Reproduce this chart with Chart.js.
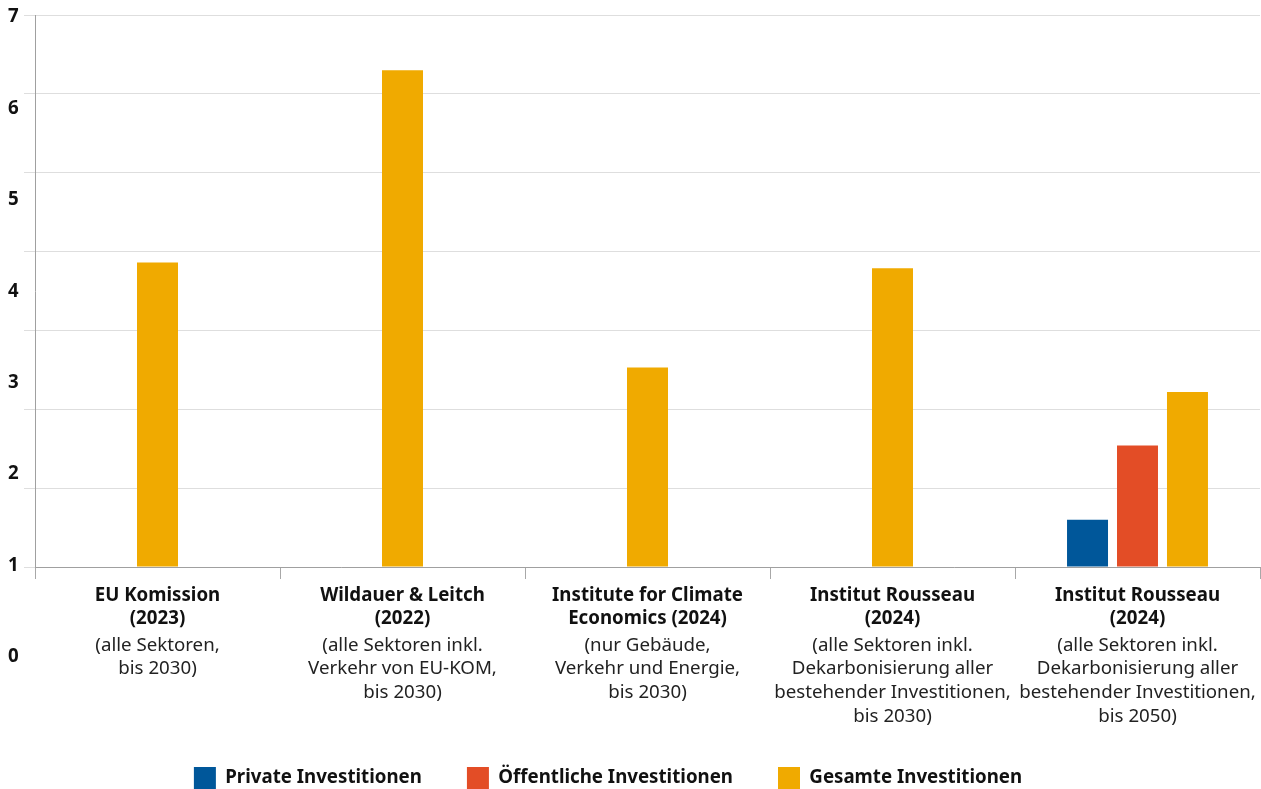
<!DOCTYPE html>
<html lang="de">
<head>
<meta charset="utf-8">
<title>Investitionsbedarf</title>
<script src="https://cdn.jsdelivr.net/npm/chart.js@4.4.1/dist/chart.umd.min.js"></script>
<style>
  html, body { margin: 0; padding: 0; background: #ffffff; overflow: hidden; }
  .wrap { position: relative; width: 1261px; height: 789px; }
  .wrap canvas { position: absolute; left: 0; top: 0; }
  #axisOverlay { pointer-events: none; }
</style>
</head>
<body>
<div class="wrap">
  <canvas id="barChart" width="1261" height="789"></canvas>
  <canvas id="axisOverlay" width="1261" height="789"></canvas>
</div>
<script>
const categoryTitles = [
  ["EU Komission", "(2023)"],
  ["Wildauer & Leitch", "(2022)"],
  ["Institute for Climate", "Economics (2024)"],
  ["Institut Rousseau", "(2024)"],
  ["Institut Rousseau", "(2024)"]
];

const categoryNotes = [
  ["(alle Sektoren,", "bis 2030)"],
  ["(alle Sektoren inkl.", "Verkehr von EU-KOM,", "bis 2030)"],
  ["(nur Gebäude,", "Verkehr und Energie,", "bis 2030)"],
  ["(alle Sektoren inkl.", "Dekarbonisierung aller", "bestehender Investitionen,", "bis 2030)"],
  ["(alle Sektoren inkl.", "Dekarbonisierung aller", "bestehender Investitionen,", "bis 2050)"]
];

const seriesNames = ["Private Investitionen", "Öffentliche Investitionen", "Gesamte Investitionen"];
const privateValues = [null, null, null, null, 0.6];
const publicValues = [null, null, null, null, 1.54];
const totalValues = [3.86, 6.3, 2.53, 3.79, 2.22];

const yTickValues = [0, 1, 2, 3, 4, 5, 6, 7];
const yTickLabels = ["0", "1", "2", "3", "4", "5", "6", "7"];

const COLORS = ["#00579a", "#e34d26", "#f0aa00"];
const FONT_SIZE = 18.7;

Chart.defaults.font.family = "'Noto Sans', sans-serif";
Chart.defaults.font.size = FONT_SIZE;
Chart.defaults.color = "#111111";

function makeDataset(label, data, color) {
  return {
    label,
    data,
    xAxisID: "x",
    backgroundColor: color,
    borderWidth: 0,
    categoryPercentage: 0.612,
    barPercentage: 0.82,
    maxBarThickness: 41,
    skipNull: true
  };
}

// the legend in the original sits a bit left of centre and close to the bottom edge
const legendShift = {
  id: "legendShift",
  afterLayout(chart) {
    const legend = chart.legend;
    if (!legend) return;
    legend.left -= 34;
    legend.right -= 34;
    legend.top -= 4;
    legend.bottom -= 4;
  }
};

function renderBarChart() {
  const canvas = document.getElementById("barChart");
  if (!canvas) return;

  new Chart(canvas.getContext("2d"), {
    type: "bar",
    data: {
      labels: categoryTitles,
      datasets: [
        makeDataset(seriesNames[0], privateValues, COLORS[0]),
        makeDataset(seriesNames[1], publicValues, COLORS[1]),
        makeDataset(seriesNames[2], totalValues, COLORS[2])
      ]
    },
    plugins: [legendShift],
    options: {
      responsive: false,
      animation: false,
      layout: {
        padding: { left: 24, right: 1, top: 15, bottom: -14 }
      },
      plugins: {
        legend: {
          position: "bottom",
          labels: {
            boxWidth: 22,
            boxHeight: 22,
            padding: 45,
            color: "#111111",
            font: { weight: "bold", size: FONT_SIZE }
          }
        },
        tooltip: { enabled: false }
      },
      scales: {
        x: {
          type: "category",
          offset: true,
          grid: {
            offset: true,
            drawOnChartArea: false,
            color: "#a8a8a8",
            tickLength: 12
          },
          border: { color: "#a0a0a0" },
          ticks: {
            padding: 5,
            maxRotation: 0,
            autoSkip: false,
            color: "#111111",
            font: { weight: "bold", size: FONT_SIZE, lineHeight: 1.25 }
          }
        },
        x2: {
          type: "category",
          position: "bottom",
          labels: categoryNotes,
          offset: true,
          grid: { display: false, drawTicks: false },
          border: { display: false },
          ticks: {
            padding: -2,
            maxRotation: 0,
            autoSkip: false,
            color: "#222222",
            font: { size: FONT_SIZE, lineHeight: 1.26 }
          }
        },
        y: {
          min: yTickValues[0],
          max: yTickValues[yTickValues.length - 1],
          grid: {
            color: "#dedede",
            tickLength: 11
          },
          border: { color: "#a0a0a0" },
          ticks: {
            stepSize: 1,
            display: false
          }
        }
      }
    }
  });
}

// the value labels in the original are spread over the full height,
// so a second, transparent chart with a taller axis draws them
function renderAxisOverlay() {
  const canvas = document.getElementById("axisOverlay");
  if (!canvas) return;

  new Chart(canvas.getContext("2d"), {
    type: "bar",
    data: { labels: [], datasets: [] },
    options: {
      responsive: false,
      animation: false,
      layout: {
        padding: { left: 8, right: 0, top: 17, bottom: 132 }
      },
      plugins: {
        legend: { display: false },
        tooltip: { enabled: false }
      },
      scales: {
        x: { display: false },
        y: {
          min: yTickValues[0],
          max: yTickValues[yTickValues.length - 1],
          grid: { display: false, drawTicks: false },
          border: { display: false },
          ticks: {
            stepSize: 1,
            padding: 0,
            color: "#111111",
            font: { weight: "bold", size: FONT_SIZE },
            callback(value) {
              const i = yTickValues.indexOf(value);
              return i >= 0 ? yTickLabels[i] : "";
            }
          }
        }
      }
    }
  });
}

document.addEventListener("DOMContentLoaded", () => {
  renderBarChart();
  renderAxisOverlay();
});
</script>
</body>
</html>
